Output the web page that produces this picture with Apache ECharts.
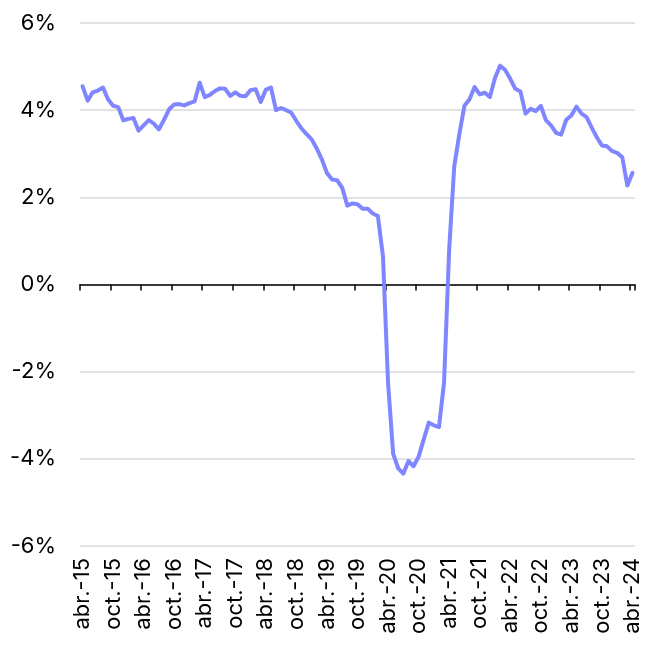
<!DOCTYPE html>
<html>
<head>
<meta charset="utf-8">
<script src="https://cdn.jsdelivr.net/npm/echarts@6/dist/echarts.min.js"></script>
<style>
  html, body { margin: 0; padding: 0; background: #fff; }
  #chart { width: 650px; height: 645px; }
</style>
</head>
<body>
<div id="chart"></div>
<script>
// Month abbreviations (Spanish) and years for categories
const monthNames = ['ene.', 'feb.', 'mar.', 'abr.', 'may.', 'jun.', 'jul.', 'ago.', 'sept.', 'oct.', 'nov.', 'dic.'];
const startYear = 2015, startMonth = 3; // abr.-15
const nPoints = 109; // abr.-15 .. abr.-24

// Year-on-year change, %
const values = [
  4.55, 4.22, 4.41, 4.45, 4.52, 4.25, 4.10, 4.07, 3.77, 3.80, 3.82, 3.53,
  3.65, 3.77, 3.69, 3.56, 3.78, 4.02, 4.13, 4.14, 4.11, 4.16, 4.20, 4.63,
  4.30, 4.35, 4.44, 4.50, 4.49, 4.33, 4.41, 4.33, 4.32, 4.46, 4.48, 4.19,
  4.47, 4.52, 4.00, 4.05, 4.00, 3.94, 3.75, 3.58, 3.45, 3.33, 3.12, 2.87,
  2.56, 2.41, 2.39, 2.22, 1.81, 1.86, 1.84, 1.74, 1.74, 1.63, 1.57, 0.65,
  -2.25, -3.88, -4.22, -4.34, -4.05, -4.17, -3.95, -3.56, -3.17, -3.23, -3.27, -2.25,
  0.80, 2.71, 3.45, 4.10, 4.25, 4.53, 4.36, 4.40, 4.30, 4.74, 5.02, 4.92,
  4.72, 4.49, 4.43, 3.92, 4.03, 3.98, 4.10, 3.77, 3.65, 3.48, 3.44, 3.78,
  3.88, 4.08, 3.92, 3.84, 3.60, 3.38, 3.19, 3.17, 3.06, 3.02, 2.92, 2.27,
  2.56
];

const categories = [];
for (let i = 0; i < nPoints; i++) {
  const m = (startMonth + i) % 12;
  const y = startYear + Math.floor((startMonth + i) / 12);
  categories.push(monthNames[m] + '-' + String(y).slice(2));
}

const yTicks = { min: -6, max: 6, interval: 2 };
const FONT = 'Inter';

const chart = echarts.init(document.getElementById('chart'), null, { renderer: 'canvas' });
chart.setOption({
  animation: false,
  backgroundColor: '#ffffff',
  grid: { left: 80, right: 15, top: 23, bottom: 99, containLabel: false },
  xAxis: [
    {
      type: 'category',
      data: categories,
      position: 'bottom',
      boundaryGap: true,
      axisLine: { onZero: true, lineStyle: { color: '#000', width: 1.5 } },
      axisTick: { show: true, interval: (i) => i % 6 === 0, length: 6, lineStyle: { color: '#000', width: 1.5 } },
      axisLabel: { show: false },
      splitLine: { show: false }
    },
    {
      type: 'category',
      data: categories,
      position: 'bottom',
      boundaryGap: true,
      axisLine: { show: false, onZero: false },
      axisTick: { show: false },
      axisLabel: {
        show: true,
        interval: (i) => i % 6 === 0,
        rotate: 90,
        margin: 12,
        color: '#000',
        fontFamily: FONT,
        fontSize: 22
      },
      splitLine: { show: false }
    }
  ],
  yAxis: {
    type: 'value',
    min: yTicks.min,
    max: yTicks.max,
    interval: yTicks.interval,
    axisLine: { show: false },
    axisTick: { show: false },
    axisLabel: {
      formatter: '{value}%',
      margin: 24,
      color: '#000',
      fontFamily: FONT,
      fontSize: 22
    },
    splitLine: { lineStyle: { color: '#d9d9d9', width: 1.5 } }
  },
  series: [{
    type: 'line',
    xAxisIndex: 0,
    data: values,
    symbol: 'none',
    smooth: false,
    lineStyle: { color: '#7f86ff', width: 4, join: 'round', cap: 'round' },
    z: 3
  }]
});
</script>
</body>
</html>
